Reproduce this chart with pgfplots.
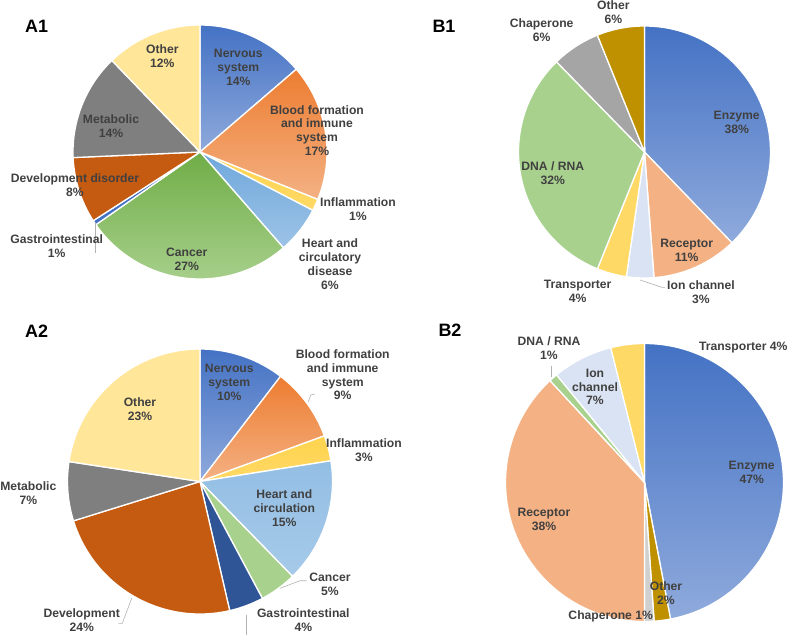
\documentclass[border=0pt]{standalone}
\usepackage{pgfplots}
\usepackage{pgfplotstable}
\pgfplotsset{compat=1.18}
\usepackage{fontspec}
\setmainfont{Liberation Sans}

\definecolor{blueT}{HTML}{4472C4}
\definecolor{blueB}{HTML}{8FAADC}
\definecolor{orT}{HTML}{ED7D31}
\definecolor{orB}{HTML}{F4B183}
\definecolor{yelT}{HTML}{FFD34D}
\definecolor{yelB}{HTML}{FFD966}
\definecolor{lbT}{HTML}{6FA8DC}
\definecolor{lbB}{HTML}{9DC3E6}
\definecolor{lbtT}{HTML}{93BEE4}
\definecolor{lbtB}{HTML}{A6CAE9}
\definecolor{grT}{HTML}{70AD47}
\definecolor{grB}{HTML}{A9D18E}
\definecolor{grS}{HTML}{A9D18E}
\definecolor{dkb}{HTML}{2F5597}
\definecolor{dev}{HTML}{C55A11}
\definecolor{met}{HTML}{7F7F7F}
\definecolor{oth}{HTML}{FFE699}
\definecolor{rec}{HTML}{F4B183}
\definecolor{ion}{HTML}{DAE3F3}
\definecolor{tra}{HTML}{FFD966}
\definecolor{chap}{HTML}{A5A5A5}
\definecolor{chapl}{HTML}{D0D0D0}
\definecolor{goth}{HTML}{BF9000}
\definecolor{txt}{HTML}{404040}

% A1: disease areas (share of targets, %), clockwise from 12 o'clock
\pgfplotstableread{
value top bottom
13.7 blueT blueB
17.4 orT orB
1.5 yelT yelB
6.0 lbT lbB
26.7 grT grB
0.6 blueT blueT
8.4 dev dev
13.5 met met
12.2 oth oth
}\tabAone
% A2
\pgfplotstableread{
value top bottom
10.4 blueT blueB
9.0 orT orB
3.1 yelT yelB
15.2 lbtT lbtB
4.5 grS grS
4.2 dkb dkb
23.8 dev dev
7.2 met met
22.6 oth oth
}\tabAtwo
% B1: target classes
\pgfplotstableread{
value top bottom
37.8 blueT blueB
11.0 rec rec
3.5 ion ion
3.8 tra tra
31.6 grS grS
6.2 chap chap
6.1 goth goth
}\tabBone
% B2
\pgfplotstableread{
value top bottom
47.0 blueT blueB
1.9 goth goth
1.1 chapl chapl
38.1 rec rec
1.0 grS grS
7.0 ion ion
3.9 tra tra
}\tabBtwo

\newcommand\drawpie[4]{%
  \gdef\cum{0}%
  \pgfplotstablegetrowsof{#1}%
  \pgfmathtruncatemacro\nrows{\pgfplotsretval-1}%
  \pgfplotsforeachungrouped \i in {0,...,\nrows}{%
    \pgfplotstablegetelem{\i}{value}\of{#1}\let\v\pgfplotsretval
    \pgfplotstablegetelem{\i}{top}\of{#1}\let\ct\pgfplotsretval
    \pgfplotstablegetelem{\i}{bottom}\of{#1}\let\cb\pgfplotsretval
    \pgfmathsetmacro\sa{90-3.6*\cum}%
    \pgfmathsetmacro\ea{90-3.6*(\cum+\v)}%
    \pgfmathsetmacro\ncum{\cum+\v}\xdef\cum{\ncum}%
    \edef\temp{\noexpand\shadedraw[draw=white,line width=1.3bp,top color=\ct,bottom color=\cb]
      (axis cs:#2,#3) -- ++(\sa:#4bp) arc[start angle=\sa,end angle=\ea,radius=#4bp] -- cycle;}%
    \temp
  }%
}

\begin{document}
\begin{tikzpicture}[
  lbl/.style={align=center,text=txt,font=\fontsize{12.2}{14}\selectfont\bfseries,inner sep=0pt},
  ttl/.style={text=black,font=\fontsize{18}{20}\selectfont\bfseries,inner sep=0pt},
  ld/.style={draw=gray!60,line width=0.6bp}]
\begin{axis}[x=1bp,y=1bp,y dir=reverse,xmin=0,xmax=787,ymin=0,ymax=635,
  hide axis,clip=false,scale only axis]
\coordinate (BL) at (axis cs:0,635);
\coordinate (TR) at (axis cs:787,0);

\drawpie{\tabAone}{200}{152}{127}
\drawpie{\tabBone}{644.5}{152}{126}
\drawpie{\tabAtwo}{200}{481.5}{132.5}
\drawpie{\tabBtwo}{644.5}{482.5}{139}

% leader lines
\draw[ld] (axis cs:95,223) -- (axis cs:95,253);
\draw[ld] (axis cs:640,280) -- (axis cs:661.7,287.3) -- (axis cs:665,287.3);
\draw[ld] (axis cs:308.3,401.7) -- (axis cs:310.7,395) -- (axis cs:315,394);
\draw[ld] (axis cs:280,588.3) -- (axis cs:300,580.7) -- (axis cs:306.7,580.7);
\draw[ld] (axis cs:246.7,615) -- (axis cs:246.7,635);
\draw[ld] (axis cs:131.7,598.3) -- (axis cs:122.3,623.3) -- (axis cs:118.3,623.3);
\draw[ld] (axis cs:551.7,366) -- (axis cs:551.7,376.7);

% titles
\node[ttl] at (axis cs:36.7,26) {A1};
\node[ttl] at (axis cs:444,26) {B1};
\node[ttl] at (axis cs:36.7,331.7) {A2};
\node[ttl] at (axis cs:450,330) {B2};

% A1 labels
\node[lbl] at (axis cs:238.3,67) {Nervous\\system\\14\%};
\node[lbl] at (axis cs:317,130.6) {Blood formation\\and immune\\system\\17\%};
\node[lbl] at (axis cs:358,209) {Inflammation\\1\%};
\node[lbl] at (axis cs:330,263.8) {Heart and\\circulatory\\disease\\6\%};
\node[lbl] at (axis cs:186.7,259.5) {Cancer\\27\%};
\node[lbl] at (axis cs:56.7,246.3) {Gastrointestinal\\1\%};
\node[lbl] at (axis cs:75,185.5) {Development disorder\\8\%};
\node[lbl] at (axis cs:111,126) {Metabolic\\14\%};
\node[lbl] at (axis cs:162.3,55.7) {Other\\12\%};

% B1 labels
\node[lbl] at (axis cs:541.7,30.3) {Chaperone\\6\%};
\node[lbl] at (axis cs:613.3,12.3) {Other\\6\%};
\node[lbl] at (axis cs:736.7,122.7) {Enzyme\\38\%};
\node[lbl] at (axis cs:552.7,172.8) {DNA / RNA\\32\%};
\node[lbl] at (axis cs:686.7,250.3) {Receptor\\11\%};
\node[lbl] at (axis cs:577.7,291.7) {Transporter\\4\%};
\node[lbl] at (axis cs:701,291.7) {Ion channel\\3\%};

% A2 labels
\node[lbl] at (axis cs:229.3,382.7) {Nervous\\system\\10\%};
\node[lbl] at (axis cs:342.7,374.7) {Blood formation\\and immune\\system\\9\%};
\node[lbl] at (axis cs:364,449.7) {Inflammation\\3\%};
\node[lbl] at (axis cs:284.3,508) {Heart and\\circulation\\15\%};
\node[lbl] at (axis cs:330,584) {Cancer\\5\%};
\node[lbl] at (axis cs:303.3,620.5) {Gastrointestinal\\4\%};
\node[lbl] at (axis cs:81.7,620.5) {Development\\24\%};
\node[lbl] at (axis cs:28.3,492.8) {Metabolic\\7\%};
\node[lbl] at (axis cs:140,409.5) {Other\\23\%};

% B2 labels
\node[lbl] at (axis cs:549,348.3) {DNA / RNA\\1\%};
\node[lbl] at (axis cs:595,386.9) {Ion\\channel\\7\%};
\node[lbl] at (axis cs:743.3,347.7) {Transporter 4\%};
\node[lbl] at (axis cs:751.7,472.7) {Enzyme\\47\%};
\node[lbl] at (axis cs:544,519.7) {Receptor\\38\%};
\node[lbl] at (axis cs:666,593) {Other\\2\%};
\node[lbl] at (axis cs:610.7,616.7) {Chaperone 1\%};
\end{axis}
\pgfresetboundingbox
\path[use as bounding box] (BL) rectangle (TR);
\end{tikzpicture}
\end{document}
